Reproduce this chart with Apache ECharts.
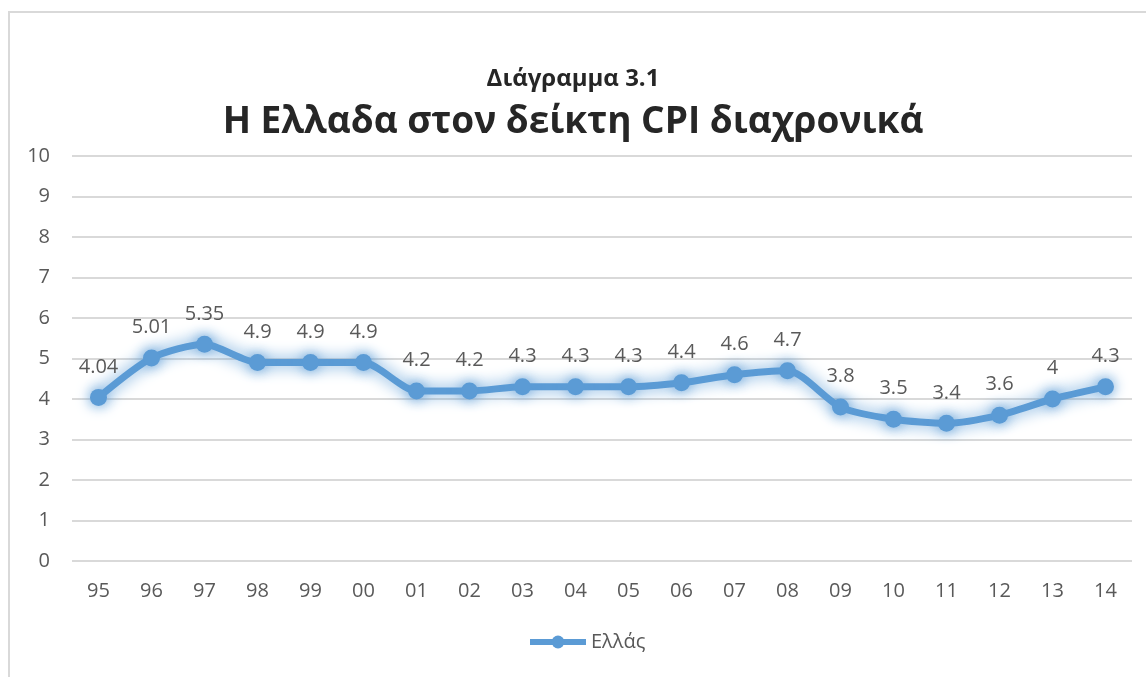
<!DOCTYPE html>
<html>
<head>
<meta charset="utf-8">
<script src="https://cdn.jsdelivr.net/npm/echarts@6/dist/echarts.min.js"></script>
<style>
  html, body { margin: 0; padding: 0; background: #fff; }
  #frame { position: absolute; left: 8px; top: 11px; width: 1200px; height: 800px; border: 2px solid #d9d9d9; box-sizing: border-box; }
  #chart { position: absolute; left: 0; top: 0; width: 1146px; height: 677px; }
</style>
</head>
<body>
<div id="frame"></div>
<div id="chart"></div>
<script>
const years = ['95', '96', '97', '98', '99', '00', '01', '02', '03', '04',
               '05', '06', '07', '08', '09', '10', '11', '12', '13', '14']
const cpi = [4.04, 5.01, 5.35, 4.9, 4.9, 4.9, 4.2, 4.2, 4.3, 4.3,
             4.3, 4.4, 4.6, 4.7, 3.8, 3.5, 3.4, 3.6, 4, 4.3]
const seriesName = 'Ελλάς'

const chart = echarts.init(document.getElementById('chart'))
const font = '"Open Sans", sans-serif'
const blue = '#5b9bd5'

chart.setOption({
    animation: false,
    title: [
        {
            text: 'Διάγραμμα 3.1',
            left: 'center',
            top: 62,
            textStyle: { fontFamily: font, fontSize: 24, fontWeight: 'bold', color: '#262626' },
        },
        {
            text: 'Η Ελλαδα στον δείκτη CPI διαχρονικά',
            left: 'center',
            top: 99,
            textStyle: { fontFamily: font, fontSize: 37, fontWeight: 'bold', color: '#262626' },
        },
    ],
    legend: {
        bottom: 20,
        left: 522,
        itemWidth: 56,
        itemHeight: 16,
        itemGap: 4,
        textStyle: { fontFamily: font, fontSize: 20, color: '#595959' },
        lineStyle: { width: 6, color: blue },
        data: [seriesName],
    },
    grid: { left: 72, right: 14, top: 156, bottom: 116, containLabel: false },
    xAxis: {
        type: 'category',
        data: years,
        axisLine: { show: false },
        axisTick: { show: false },
        axisLabel: { fontFamily: font, fontSize: 20, color: '#595959', margin: 20 },
    },
    yAxis: {
        type: 'value',
        min: 0,
        max: 10,
        interval: 1,
        axisLine: { show: false },
        axisTick: { show: false },
        axisLabel: { fontFamily: font, fontSize: 20, color: '#595959', margin: 22 },
        splitLine: { lineStyle: { color: '#d9d9d9', width: 2 } },
    },
    series: [
        {
            name: seriesName,
            type: 'line',
            data: cpi,
            smooth: 0.25,
            symbol: 'circle',
            symbolSize: 17,
            lineStyle: { color: blue, width: 7, shadowColor: 'rgba(91,155,213,1)', shadowBlur: 16 },
            itemStyle: { color: blue, shadowColor: 'rgba(91,155,213,1)', shadowBlur: 14 },
            label: {
                show: true,
                position: 'top',
                distance: 12,
                fontFamily: font,
                fontSize: 20,
                color: '#595959',
            },
        },
    ],
})
</script>
</body>
</html>
